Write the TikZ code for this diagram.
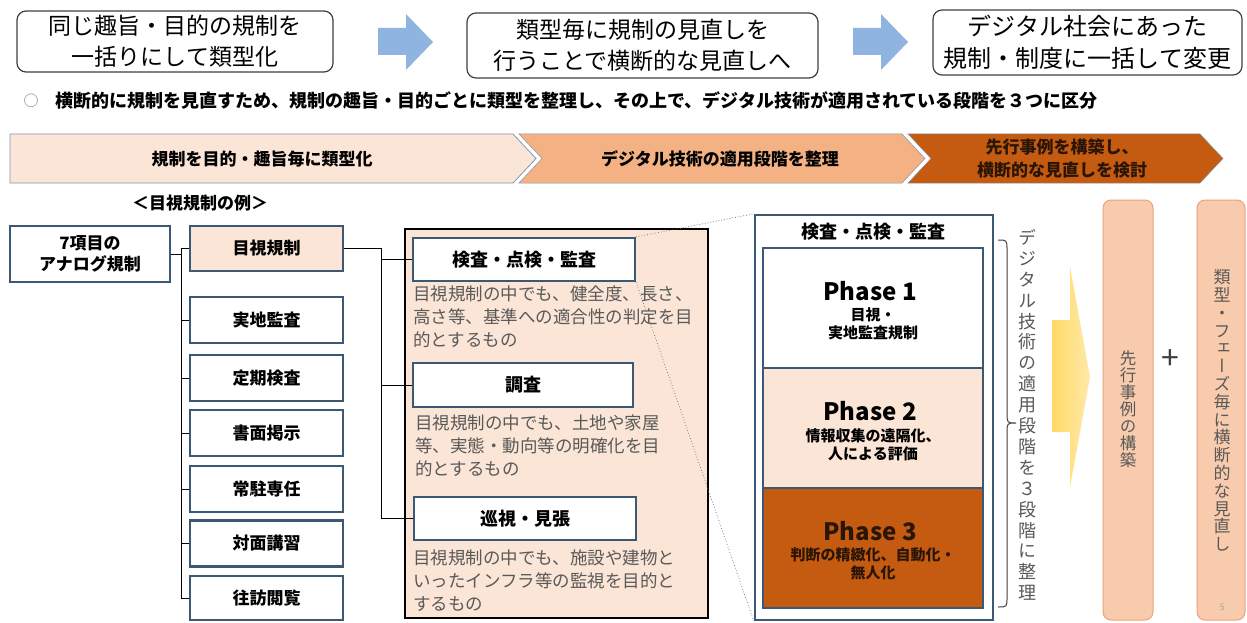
\documentclass[tikz,border=0pt]{standalone}
\usepackage{fontspec}
\setmainfont{Noto Sans CJK JP}
\newfontfamily\vfont{Noto Sans CJK JP}[RawFeature=+vert]
\definecolor{peach}{HTML}{FBE5D6}
\definecolor{salmon}{HTML}{F4B183}
\definecolor{rust}{HTML}{C55A11}
\definecolor{lsalmon}{HTML}{F8CBAD}
\definecolor{lsedge}{HTML}{E8A47C}
\definecolor{boxblue}{HTML}{3B5875}
\definecolor{arrowblue}{HTML}{8FB4E0}
\definecolor{txtgray}{HTML}{595959}
\definecolor{edgegray}{HTML}{404040}
\definecolor{chevedge}{HTML}{8497B0}
\definecolor{darktxt}{HTML}{2B1606}
\definecolor{yel1}{HTML}{FFD966}
\definecolor{yel2}{HTML}{FFE9A8}
\tikzset{
  topbox/.style={draw=edgegray, line width=1.2pt, rounded corners=9pt, fill=white, align=center, inner sep=0pt, font=\fontsize{23}{31}\selectfont},
  bluearrow/.style={fill=arrowblue, draw=none},
  chevtext/.style={font=\bfseries\fontsize{17}{23}\selectfont, align=center, inner sep=0pt},
  treebox/.style={draw=boxblue, line width=2.4pt, fill=white, inner sep=0pt, align=center, font=\bfseries\fontsize{17}{21}\selectfont},
  conn/.style={draw=black, line width=1pt},
  desc/.style={text=txtgray, align=left, anchor=north west, inner sep=0pt, font=\fontsize{17.5}{23}\selectfont},
  phasebig/.style={font=\bfseries\fontsize{24}{26}\selectfont, inner sep=0pt},
  phasesmall/.style={font=\bfseries\fontsize{15}{18}\selectfont, align=center, inner sep=0pt},
  sidebox/.style={fill=lsalmon, draw=lsedge, line width=1pt, rounded corners=8pt, inner sep=0pt},
  vtext/.style={align=center, text=txtgray, inner sep=0pt},
  dotline/.style={draw=gray, line width=0.8pt, dotted},
}
\begin{document}
\begin{tikzpicture}[x=1pt,y=-1pt]
\useasboundingbox[fill=white] (0,0) rectangle (1247,623);

% ---- top row ----
\node[topbox, minimum width=316pt, minimum height=61pt] (t1) at (175,41.5) {同じ趣旨・目的の規制を\\一括りにして類型化};
\node[topbox, minimum width=351pt, minimum height=65pt] (t2) at (642.5,45.5) {類型毎に規制の見直しを\\行うことで横断的な見直しへ};
\node[topbox, minimum width=309pt, minimum height=65pt, font=\fontsize{24}{32}\selectfont] (t3) at (1087.5,42.5) {デジタル社会にあった\\規制・制度に一括して変更};
\path[bluearrow] (378,28) -- (406,28) -- (406,14) -- (433,42) -- (406,70) -- (406,55) -- (378,55) -- cycle;
\path[bluearrow] (853,28) -- (881,28) -- (881,14) -- (908,42) -- (881,70) -- (881,55) -- (853,55) -- cycle;

% ---- bullet line ----
\node[text=gray, font=\fontsize{15}{15}\selectfont, inner sep=0pt] (bul) at (31,101) {○};
\node[anchor=west, inner sep=0pt, font=\bfseries\fontsize{18}{18}\selectfont] (lead) at (55,101) {横断的に規制を見直すため、規制の趣旨・目的ごとに類型を整理し、その上で、デジタル技術が適用されている段階を３つに区分};

% ---- chevrons ----
\path[fill=peach, draw=chevedge, line width=0.8pt] (10,134) -- (513,134) -- (536,158.5) -- (513,183) -- (10,183) -- cycle;
\path[fill=salmon, draw=chevedge, line width=0.5pt] (519,134) -- (902,134) -- (925,158.5) -- (902,183) -- (519,183) -- (542,158.5) -- cycle;
\path[fill=rust, draw=chevedge, line width=0.5pt] (908,134) -- (1200,134) -- (1223,158.5) -- (1200,183) -- (908,183) -- (931,158.5) -- cycle;
\node[chevtext] (c1) at (262,159) {規制を目的・趣旨毎に類型化};
\node[chevtext] (c2) at (720,159) {デジタル技術の適用段階を整理};
\node[chevtext, text=darktxt] (c3) at (1062,158.5) {先行事例を構築し、\\横断的な見直しを検討};

% ---- example label ----
\node[font=\bfseries\fontsize{17}{17}\selectfont, inner sep=0pt] (ex) at (200,203) {＜目視規制の例＞};

% ---- tree ----
\node[treebox, minimum width=160pt, minimum height=56pt, font=\bfseries\fontsize{17}{21}\selectfont] (analog) at (90,254) {7項目の\\アナログ規制};
\node[treebox, fill=peach, minimum width=153pt, minimum height=45pt] (mok) at (266.5,248.5) {目視規制};
\node[treebox, minimum width=153pt, minimum height=46pt] (jicchi) at (266.5,320) {実地監査};
\node[treebox, minimum width=153pt, minimum height=46pt] (teiki) at (266.5,378) {定期検査};
\node[treebox, minimum width=153pt, minimum height=46pt] (shomen) at (266.5,433) {書面掲示};
\node[treebox, minimum width=153pt, minimum height=46pt] (jochu) at (266.5,489) {常駐専任};
\node[treebox, minimum width=153pt, minimum height=46pt] (taimen) at (266.5,543.5) {対面講習};
\node[treebox, minimum width=153pt, minimum height=44pt] (ohmon) at (266.5,598) {往訪閲覧};
\foreach \c in {mok,jicchi,teiki,shomen,jochu,taimen,ohmon}
  \draw[conn] (analog.east) -- ++(10,0) |- (\c.west);

% ---- peach panel ----
\node[draw=black, line width=2.4pt, fill=peach, minimum width=303pt, minimum height=389pt, inner sep=0pt] (panel) at (556.5,423.5) {};
\node[treebox, line width=2.2pt, minimum width=222pt, minimum height=43pt, font=\bfseries\fontsize{18}{21}\selectfont] (kensa) at (524,259.5) {検査・点検・監査};
\node[treebox, line width=2.2pt, minimum width=220pt, minimum height=44pt, font=\bfseries\fontsize{18}{21}\selectfont] (chosa) at (523,385) {調査};
\node[treebox, line width=2.2pt, minimum width=222pt, minimum height=43pt, font=\bfseries\fontsize{18}{21}\selectfont] (junshi) at (525,518.5) {巡視・見張};
\foreach \c in {kensa,chosa,junshi}
  \draw[conn] (mok.east) -- ++(37,0) |- (\c.west);
\node[desc] (d1) at (413,286) {目視規制の中でも、健全度、長さ、\\高さ等、基準への適合性の判定を目\\的とするもの};
\node[desc] (d2) at (415,415) {目視規制の中でも、土地や家屋\\等、実態・動向等の明確化を目\\的とするもの};
\node[desc] (d3) at (413,550) {目視規制の中でも、施設や建物と\\いったインフラ等の監視を目的と\\するもの};

% ---- phase panel ----
\node[draw=boxblue, line width=2.4pt, fill=white, minimum width=238pt, minimum height=405pt, inner sep=0pt] (ppanel) at (874,417.5) {};
\node[font=\bfseries\fontsize{18}{18}\selectfont, inner sep=0pt] (ptitle) at (873,232) {検査・点検・監査};
\node[draw=boxblue, line width=2pt, fill=white, minimum width=220pt, minimum height=120pt, inner sep=0pt] (p1) at (873,308) {};
\node[draw=boxblue, line width=2pt, fill=peach, minimum width=220pt, minimum height=120pt, inner sep=0pt] (p2) at (873,428) {};
\node[draw=boxblue, line width=2pt, fill=rust, minimum width=220pt, minimum height=120pt, inner sep=0pt] (p3) at (873,548) {};
\node[phasebig] (p1t) at (870,291) {Phase 1};
\node[phasesmall] (p1s) at (873,324) {目視・\\実地監査規制};
\node[phasebig] (p2t) at (870,411) {Phase 2};
\node[phasesmall] (p2s) at (873,445) {情報収集の遠隔化、\\人による評価};
\node[phasebig, text=darktxt] (p3t) at (870,531) {Phase 3};
\node[phasesmall, text=darktxt] (p3s) at (873,564) {判断の精緻化、自動化・\\無人化};

% dotted zoom lines
\draw[dotline] (kensa.north east) -- (ppanel.north west);
\draw[dotline] (kensa.south east) -- (ppanel.south west);

% brace (pointing right) and vertical label
\draw[line width=1pt, draw=edgegray] (998,240) .. controls (1007,240) .. (1007,250) -- (1007,413)
  .. controls (1007,423) .. (1016,423) .. controls (1007,423) .. (1007,433) -- (1007,597)
  .. controls (1007,607) .. (998,607);
\node[vtext, font=\vfont\fontsize{18}{20.9}\selectfont] (vlabel) at (1027,415) {デ\\ジ\\タ\\ル\\技\\術\\の\\適\\用\\段\\階\\を\\３\\段\\階\\に\\整\\理};

% yellow arrow
\path[left color=yel1, right color=yel2] (1052,320) -- (1070,320) -- (1070,267) -- (1090,377) -- (1070,487) -- (1070,432) -- (1052,432) -- cycle;

% side boxes
\node[sidebox, minimum width=50pt, minimum height=420pt] (s1) at (1128,410) {};
\node[vtext, font=\vfont\fontsize{16.5}{17}\selectfont] (s1t) at (1128,409) {先\\行\\事\\例\\の\\構\\築};
\node[font=\fontsize{32}{32}\selectfont, inner sep=0pt, text=edgegray] (plus) at (1170,360) {+};
\node[sidebox, minimum width=48pt, minimum height=420pt] (s2) at (1221,410) {};
\node[vtext, font=\vfont\fontsize{17}{17.8}\selectfont] (s2t) at (1222,410.5) {類\\型\\・\\フ\\ェ\\ー\\ズ\\毎\\に\\横\\断\\的\\な\\見\\直\\し};
\node[text=gray!70, font=\fontsize{9}{9}\selectfont, inner sep=0pt] (pg) at (1222,607) {5};
\end{tikzpicture}
\end{document}
